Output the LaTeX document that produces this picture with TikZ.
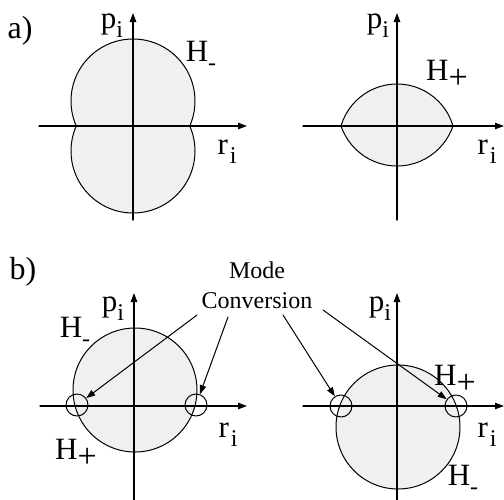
\documentclass[tikz,border=0pt]{standalone}
\usepackage{fontspec}
\setmainfont{Liberation Serif}
\usetikzlibrary{arrows.meta}
\tikzset{
  >={Triangle[length=4.5pt, width=3.2pt]},
  every picture/.style={line cap=round, line join=round},
  px/.style={x=0.5pt, y=-0.5pt},
  axis/.style={->, line width=0.6pt},
  region/.style={fill=black!6},
  rim/.style={line width=0.5pt},
  lbl/.style={inner sep=0pt, font=\fontsize{15.5}{18}\selectfont},
  panel/.style={inner sep=0pt, font=\fontsize{16}{19}\selectfont},
  conv/.style={draw, circle, line width=0.5pt, minimum size=11pt, inner sep=0pt},
  pointer/.style={->, line width=0.5pt},
}
\newcommand\lowsub[1]{\raisebox{-0.3em}{\fontsize{12}{14}\selectfont #1}}
\newcommand\pv{p\lowsub{i}}
\newcommand\rv{r\kern1pt\lowsub{i}}
\newcommand\hminus{H\lowsub{-}}
\newcommand\hplus{H\raisebox{-0.25em}{\fontsize{17}{19}\selectfont +}}

\begin{document}
\begin{tikzpicture}[px]
  \useasboundingbox (0,0) rectangle (504,499);
  % a) left: union of two discs
  \fill[region] (133,101) circle (62) (133,151) circle (62);
  \begin{scope}
    \clip (0,0) rectangle (504,126);
    \draw[rim] (133,101) circle (62);
  \end{scope}
  \begin{scope}
    \clip (0,126) rectangle (504,250);
    \draw[rim] (133,151) circle (62);
  \end{scope}
  % a) right: lens
  \begin{scope}
    \clip (260,0) rectangle (504,126);
    \filldraw[region, rim] (397,142.3) circle (58.3);
  \end{scope}
  \begin{scope}
    \clip (260,126) rectangle (504,250);
    \filldraw[region, rim] (397,106.8) circle (59.2);
  \end{scope}
  % b) discs
  \filldraw[region, rim] (135,390) circle (62);
  \filldraw[region, rim] (398,427) circle (62);
  % axes
  \foreach \cx/\cy/\xa/\xb in {133/126/39/247, 397/126/303/504, 134/406/40/247, 397/406/303/504} {
    \draw[axis] (\xa,\cy) -- (\xb,\cy);
    \draw[axis] (\cx,\cy+94) -- (\cx,\cy-113);
  }
  % mode conversion points
  \node[conv] (mc1) at (77,405) {};
  \node[conv] (mc2) at (196,405) {};
  \node[conv] (mc3) at (341,406) {};
  \node[conv] (mc4) at (456,406) {};
  \node[align=center, inner sep=0pt, font=\fontsize{12}{15}\selectfont] (mode) at (257,285) {Mode\\Conversion};
  \coordinate (s1) at (197,315);
  \coordinate (s2) at (228,317);
  \coordinate (s3) at (283,315);
  \coordinate (s4) at (323,310);
  \foreach \i in {1,...,4}
    \draw[pointer] (s\i) -- (mc\i);
  % labels
  \node[panel] (pa) at (20,31) {a)};
  \node[panel] (pb) at (23,272) {b)};
  \node[lbl] (p1) at (112,26) {\pv};
  \node[lbl] (h1) at (201,56) {\hminus};
  \node[lbl] (r1) at (227,152) {\rv};
  \node[lbl] (p2) at (378,26) {\pv};
  \node[lbl] (h2) at (447,74) {\hplus};
  \node[lbl] (r2) at (487,152) {\rv};
  \node[lbl] (p3) at (113,309) {\pv};
  \node[lbl] (h3) at (75,332) {\hminus};
  \node[lbl] (h4) at (76,453) {\hplus};
  \node[lbl] (r3) at (228,435) {\rv};
  \node[lbl] (p4) at (380,309) {\pv};
  \node[lbl] (h5) at (455,379) {\hplus};
  \node[lbl] (r4) at (487,435) {\rv};
  \node[lbl] (h6) at (463,480) {\hminus};
\end{tikzpicture}
\end{document}
